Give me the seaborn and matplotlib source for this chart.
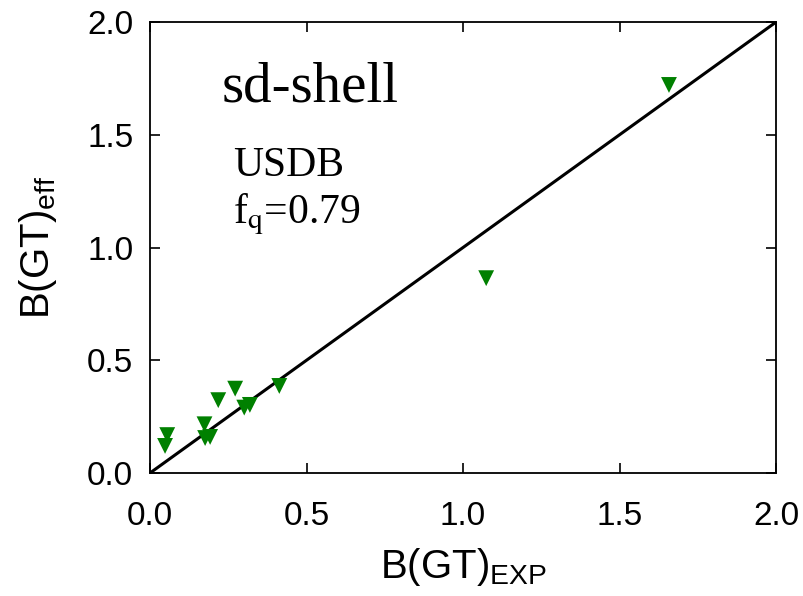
import matplotlib
matplotlib.use("Agg")
import matplotlib.pyplot as plt
import seaborn as sns
import pandas as pd

# Gamow-Teller strengths: experiment vs. shell model (USDB, quenched)
b_gt_exp = [0.055, 0.048, 0.174, 0.176, 0.192, 0.218, 0.272, 0.301, 0.319, 0.413, 1.074, 1.658]
b_gt_eff = [0.168, 0.120, 0.216, 0.155, 0.160, 0.323, 0.374, 0.290, 0.302, 0.386, 0.864, 1.721]
ticks = [0.0, 0.5, 1.0, 1.5, 2.0]
tick_labels = ["0.0", "0.5", "1.0", "1.5", "2.0"]

df = pd.DataFrame({"exp": b_gt_exp, "eff": b_gt_eff})

sns.set_style("ticks")
plt.rcParams["font.family"] = ["Liberation Sans", "DejaVu Sans"]
plt.rcParams["mathtext.fontset"] = "custom"
plt.rcParams["mathtext.rm"] = "Liberation Sans"
plt.rcParams["text.color"] = "black"
plt.rcParams["axes.labelcolor"] = "black"

fig = plt.figure(figsize=(8.04, 5.96), dpi=100)
ax = fig.add_axes([0.1866, 0.2064, 0.7786, 0.7566])

ax.plot([0, 2], [0, 2], color="black", lw=2.2, zorder=2)
sns.scatterplot(data=df, x="exp", y="eff", ax=ax, marker="v", s=130,
                color="#008000", edgecolor="none", zorder=3, clip_on=False)

ax.set_xlim(0, 2)
ax.set_ylim(0, 2)
ax.set_xticks(ticks)
ax.set_xticklabels(tick_labels)
ax.set_yticks(ticks)
ax.set_yticklabels(tick_labels)
ax.tick_params(direction="in", length=7, width=1.2, top=True, right=True,
               labelsize=24, colors="black")
ax.tick_params(axis="x", pad=20)
ax.tick_params(axis="y", pad=12)
for sp in ax.spines.values():
    sp.set_linewidth(1.3)
    sp.set_color("black")

ax.set_xlabel(r"B(GT)$_{\mathrm{EXP}}$", fontsize=29, labelpad=10, color="black")
ax.set_ylabel(r"B(GT)$_{\mathrm{eff}}$", fontsize=29, labelpad=20, color="black")

ax.text(0.23, 1.649, "sd-shell", family="Liberation Serif", fontsize=41,
        va="baseline", ha="left", color="black")
ax.text(0.265, 1.316, "USDB", family="Liberation Serif", fontsize=30,
        va="baseline", ha="left", color="black")
ax.text(0.265, 1.107, r"f$_{\mathrm{q}}$=0.79", family="Liberation Serif",
        fontsize=30, va="baseline", ha="left", color="black",
        math_fontfamily="stix")

fig.savefig("out.png", dpi=100)
